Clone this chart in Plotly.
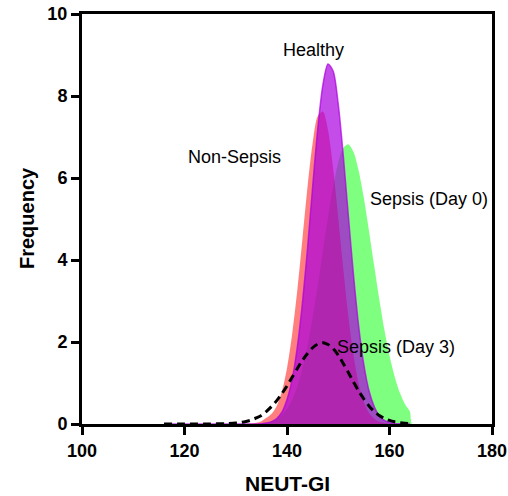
import plotly.graph_objects as go

# ---- data ----
healthy_x = [116, 125, 132, 134, 135, 136, 137, 138, 139, 140, 141, 142, 143, 144, 145, 146, 147,
             148, 149, 150, 151, 152, 153, 154, 155, 156, 157, 158, 159, 160, 161, 162, 164]
healthy_y = [0, 0, 0.001, 0.003, 0.008, 0.023, 0.058, 0.135, 0.29, 0.60, 1.09, 1.87, 2.95, 4.28, 5.79, 7.20, 8.27,
             8.78, 8.61, 7.80, 6.52, 5.04, 3.60, 2.37, 1.44, 0.81, 0.43, 0.20, 0.09, 0.037, 0.015, 0.005, 0]

nonsepsis_x = [130, 132, 133, 134, 135, 136, 137, 138, 139, 140, 141, 142, 143, 144, 145, 146, 147,
               148, 149, 150, 151, 152, 153, 154, 155, 156, 157, 158, 160, 162]
nonsepsis_y = [0, 0.003, 0.01, 0.03, 0.07, 0.15, 0.25, 0.44, 0.79, 1.36, 2.19, 3.25, 4.50, 5.78, 6.85, 7.51, 7.62,
               7.17, 6.23, 5.02, 3.76, 2.59, 1.65, 0.97, 0.53, 0.27, 0.13, 0.055, 0.008, 0]

sepsis0_x = [135, 136, 137, 138, 139, 140, 141, 142, 143, 144, 145, 146, 147, 148, 149, 150, 151, 152,
             153, 154, 155, 156, 157, 158, 159, 160, 161, 162, 163, 164, 164.15, 164.3]
sepsis0_y = [0, 0.036, 0.069, 0.125, 0.22, 0.37, 0.59, 0.91, 1.35, 1.91, 2.59, 3.37, 4.21, 5.04, 5.79, 6.38, 6.74, 6.82,
             6.63, 6.17, 5.51, 4.71, 3.87, 3.05, 2.30, 1.67, 1.16, 0.77, 0.49, 0.30, 0.12, 0]

sepsis3_x = [116, 120, 125, 128, 130, 131, 132, 133, 134, 135, 136, 137, 138, 139, 140, 141, 142, 143, 144,
             145, 146, 147, 148, 149, 150, 151, 152, 153, 154, 155, 156, 157, 158, 159, 160, 161, 162, 163, 164]
sepsis3_y = [0, 0, 0.001, 0.008, 0.023, 0.038, 0.062, 0.096, 0.147, 0.21, 0.31, 0.43, 0.57, 0.74, 0.93, 1.14, 1.35,
             1.55, 1.72, 1.86, 1.95, 1.98, 1.94, 1.84, 1.68, 1.47, 1.25, 1.02, 0.80, 0.61, 0.44, 0.31, 0.21,
             0.137, 0.087, 0.053, 0.031, 0.017, 0.01]

labels = ["Healthy", "Non-Sepsis", "Sepsis (Day 0)", "Sepsis (Day 3)"]
label_x = [145.2, 129.8, 167.7, 161.2]
label_y = [9.12, 6.51, 5.49, 1.885]

x_ticks = [100, 120, 140, 160, 180]
y_ticks = [0, 2, 4, 6, 8, 10]

fig = go.Figure()
fig.add_trace(go.Scatter(x=sepsis0_x, y=sepsis0_y, fill="tozeroy", mode="lines",
                         line=dict(width=0, shape="spline", smoothing=0.8),
                         fillcolor="rgba(0,255,0,0.5)", showlegend=False, hoverinfo="skip"))
fig.add_trace(go.Scatter(x=nonsepsis_x, y=nonsepsis_y, fill="tozeroy", mode="lines",
                         line=dict(width=0, shape="spline", smoothing=0.8),
                         fillcolor="rgba(255,0,0,0.5)", showlegend=False, hoverinfo="skip"))
fig.add_trace(go.Scatter(x=healthy_x, y=healthy_y, fill="tozeroy", mode="lines",
                         line=dict(width=1.5, color="rgba(171,0,222,0.7)", shape="spline", smoothing=0.8),
                         fillcolor="rgba(171,0,222,0.7)", showlegend=False, hoverinfo="skip"))
fig.add_trace(go.Scatter(x=sepsis3_x, y=sepsis3_y, mode="lines",
                         line=dict(width=3, color="black", dash="8px,5px", shape="spline", smoothing=0.8),
                         showlegend=False, hoverinfo="skip"))

for t, lx, ly in zip(labels, label_x, label_y):
    fig.add_annotation(x=lx, y=ly, text=t, showarrow=False,
                       font=dict(family="Liberation Sans, Arial", size=18, color="black"),
                       xanchor="center", yanchor="middle")

fig.add_annotation(xref="paper", yref="paper", x=0.5, y=-(484 - 424) / 410, text="NEUT-GI",
                   showarrow=False, xanchor="center", yanchor="middle",
                   font=dict(family="Liberation Sans, Arial", size=21, color="black", weight="bold"))
fig.add_annotation(xref="paper", yref="paper", x=-(82 - 27) / 410, y=(424 - 218) / 410, text="Frequency",
                   showarrow=False, xanchor="center", yanchor="middle", textangle=-90,
                   font=dict(family="Liberation Sans, Arial", size=20, color="black", weight="bold"))

axis_common = dict(showline=True, linecolor="black", linewidth=3, mirror=True,
                   ticks="outside", ticklen=8, tickwidth=3, tickcolor="black",
                   showgrid=False, zeroline=False, automargin=False,
                   tickfont=dict(family="Liberation Sans, Arial", size=18, color="black", weight="bold"))

fig.update_xaxes(range=[100, 180], tickvals=x_ticks, **axis_common)
fig.update_yaxes(range=[0, 10], tickvals=y_ticks, **axis_common)

fig.update_layout(width=508, height=496, margin=dict(l=82, r=16, t=14, b=72),
                  plot_bgcolor="white", paper_bgcolor="white")

fig.write_html("out.html")
